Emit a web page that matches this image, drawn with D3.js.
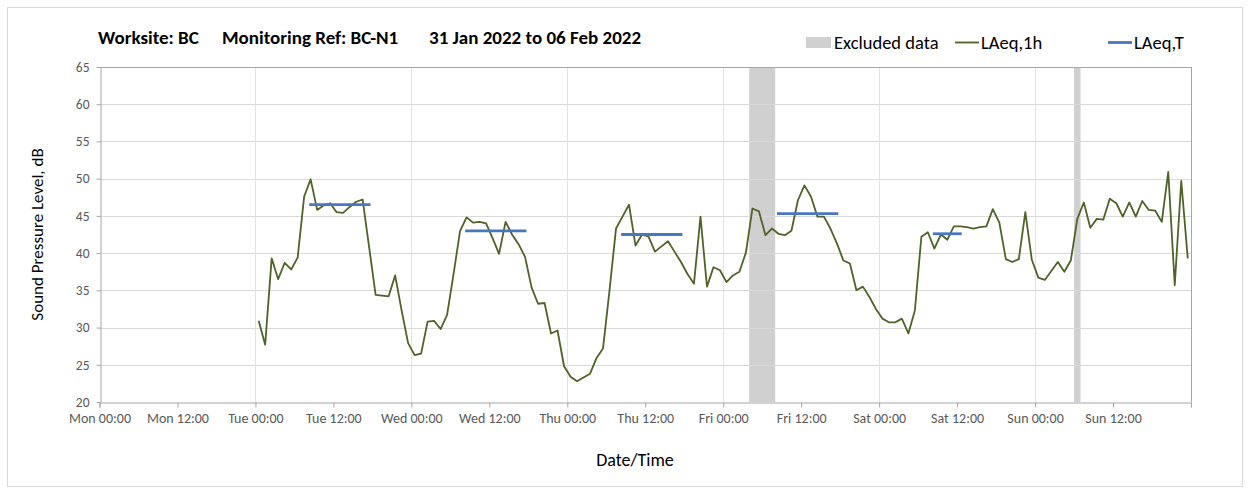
<!DOCTYPE html>
<html>
<head>
<meta charset="utf-8">
<script src="https://cdn.jsdelivr.net/npm/d3@7"></script>
<style>
  html, body { margin: 0; padding: 0; background: #fff; }
  svg { display: block; font-family: Carlito, Lato, "Open Sans", sans-serif; }
</style>
</head>
<body>
<svg id="chart" width="1250" height="492"></svg>
<script>
// ---------------- DATA ----------------
const titleParts = ["Worksite: BC", "Monitoring Ref: BC-N1", "31 Jan 2022 to 06 Feb 2022"];
const axisStart = "2022-01-31T00:00Z";
const axisEnd   = "2022-02-07T00:00Z";
const seriesStart = "2022-02-01T00:00Z"; // first hourly interval (Tue 00:00)
const yTicks = [20, 25, 30, 35, 40, 45, 50, 55, 60, 65];

// LAeq,1h hourly values, Tue 00:00 -> Sun 23:00
const laeq1h = [
  30.9, 27.7, 39.3, 36.5, 38.7, 37.8, 39.4, 47.6, 49.9, 45.8, 46.4, 46.7,
  45.5, 45.4, 46.2, 46.9, 47.2, 40.8, 34.4, 34.3, 34.2, 37.0, 32.3, 27.9,
  26.3, 26.5, 30.8, 30.9, 29.8, 31.7, 37.2, 43.0, 44.8, 44.1, 44.2, 44.0,
  42.0, 39.9, 44.2, 42.5, 41.2, 39.5, 35.4, 33.2, 33.3, 29.2, 29.6, 24.8,
  23.4, 22.8, 23.3, 23.8, 25.9, 27.2, 35.0, 43.3, 44.9, 46.5, 41.0, 42.5,
  42.2, 40.2, 40.9, 41.6, 40.2, 38.8, 37.2, 35.9, 44.9, 35.5, 38.1, 37.7,
  36.1, 37.0, 37.5, 40.1, 46.0, 45.6, 42.4, 43.3, 42.6, 42.4, 43.0, 47.1,
  49.1, 47.6, 44.9, 44.9, 43.3, 41.3, 39.0, 38.6, 35.0, 35.5, 34.1, 32.5,
  31.2, 30.7, 30.7, 31.2, 29.2, 32.3, 42.2, 42.8, 40.6, 42.5, 41.8, 43.6,
  43.6, 43.5, 43.3, 43.5, 43.6, 45.9, 44.1, 39.2, 38.8, 39.2, 45.5, 39.1,
  36.7, 36.4, 37.6, 38.8, 37.5, 39.0, 44.6, 46.8, 43.4, 44.6, 44.5, 47.3,
  46.7, 44.9, 46.8, 44.9, 47.0, 45.8, 45.7, 44.2, 50.9, 35.7, 49.7, 39.3
];

// LAeq,T working-period values
const periodStarts = ["2022-02-01T08:00Z", "2022-02-02T08:00Z", "2022-02-03T08:00Z", "2022-02-04T08:00Z", "2022-02-05T08:00Z"];
const periodEnds   = ["2022-02-01T18:00Z", "2022-02-02T18:00Z", "2022-02-03T18:00Z", "2022-02-04T18:00Z", "2022-02-05T13:00Z"];
const laeqT        = [46.5, 43.0, 42.5, 45.3, 42.6];

// Excluded data periods
const excludedStarts = ["2022-02-04T04:00Z", "2022-02-06T06:00Z"];
const excludedEnds   = ["2022-02-04T08:00Z", "2022-02-06T07:00Z"];

const legendLabels = ["Excluded data", "LAeq,1h", "LAeq,T"];

// ---------------- CHART ----------------
const W = 1250, H = 492;
const m = { left: 99.5, right: 1191, top: 67, bottom: 402 };
const HOUR = 3600 * 1000;
const svg = d3.select("#chart");

const colGreen = "#4f6228", colBlue = "#4a76c0", colExcl = "#d0d0d0";
const colGrid = "#d9d9d9", colAxis = "#a6a6a6", colText = "#595959";

// outer frame
svg.append("rect").attr("x", 7.5).attr("y", 7.5).attr("width", W - 15).attr("height", H - 13)
  .attr("fill", "#fff").attr("stroke", "#d9d9d9").attr("stroke-width", 1);

const x = d3.scaleUtc().domain([new Date(axisStart), new Date(axisEnd)]).range([m.left, m.right]);
const y = d3.scaleLinear().domain([20, 65]).range([m.bottom, m.top]);

// excluded bands
svg.append("g").selectAll("rect").data(excludedStarts.map((s, i) => [new Date(s), new Date(excludedEnds[i])]))
  .join("rect")
  .attr("x", d => x(d[0])).attr("width", d => x(d[1]) - x(d[0]))
  .attr("y", m.top).attr("height", m.bottom - m.top)
  .attr("fill", colExcl);

// horizontal gridlines
svg.append("g").selectAll("line").data(yTicks.filter(v => v > 20)).join("line")
  .attr("x1", m.left).attr("x2", m.right)
  .attr("y1", d => Math.round(y(d)) + 0.5).attr("y2", d => Math.round(y(d)) + 0.5)
  .attr("stroke", colGrid).attr("stroke-width", 1);

// vertical day gridlines
const dayTicks = d3.utcDay.range(new Date(axisStart), new Date(axisEnd)).slice(1);
svg.append("g").selectAll("line").data(dayTicks).join("line")
  .attr("x1", d => Math.round(x(d)) + 0.5).attr("x2", d => Math.round(x(d)) + 0.5)
  .attr("y1", m.top).attr("y2", m.bottom)
  .attr("stroke", "#e3e3e3").attr("stroke-width", 1);

// plot border (right and top)
svg.append("line").attr("x1", Math.round(m.right) + 0.5).attr("x2", Math.round(m.right) + 0.5)
  .attr("y1", m.top).attr("y2", m.bottom).attr("stroke", colAxis);
svg.append("line").attr("x1", m.left).attr("x2", m.right)
  .attr("y1", Math.round(m.top) + 0.5).attr("y2", Math.round(m.top) + 0.5).attr("stroke", colAxis);

// axes
const xTicks = d3.utcHour.every(12).range(new Date(axisStart), new Date(new Date(axisEnd).getTime() + 1));
const xAxis = d3.axisBottom(x).tickValues(xTicks).tickSize(5).tickPadding(6)
  .tickFormat(d => d.getTime() >= new Date(axisEnd).getTime() ? "" : d3.utcFormat("%a %H:%M")(d));
const gx = svg.append("g").attr("transform", `translate(0,${Math.round(m.bottom) + 0.5})`).call(xAxis);
gx.select(".domain").attr("stroke", colAxis);
gx.selectAll(".tick line").attr("stroke", colAxis);
gx.selectAll(".tick text").attr("fill", colText).attr("font-size", 14).attr("font-family", "Carlito, Lato, sans-serif");

const yAxis = d3.axisLeft(y).tickValues(yTicks).tickSize(4).tickPadding(7).tickSizeOuter(0);
const gy = svg.append("g").attr("transform", `translate(${Math.round(m.left) + 0.5},0)`).call(yAxis);
gy.select(".domain").attr("stroke", colAxis);
gy.selectAll(".tick line").attr("stroke", colAxis);
gy.selectAll(".tick text").attr("fill", colText).attr("font-size", 13.5).attr("font-family", "Carlito, Lato, sans-serif");

// LAeq,1h line
const hourly = laeq1h.map((v, i) => ({ t: new Date(new Date(seriesStart).getTime() + i * HOUR + HOUR / 2), v }));
svg.append("path").datum(hourly)
  .attr("d", d3.line().x(d => x(d.t)).y(d => y(d.v)))
  .attr("fill", "none").attr("stroke", colGreen).attr("stroke-width", 1.8).attr("stroke-linejoin", "round");

// LAeq,T segments
svg.append("g").selectAll("line").data(laeqT.map((v, i) => ({
    a: new Date(new Date(periodStarts[i]).getTime() + HOUR / 2),
    b: new Date(new Date(periodEnds[i]).getTime() - HOUR / 2), v })))
  .join("line")
  .attr("x1", d => x(d.a)).attr("x2", d => x(d.b))
  .attr("y1", d => y(d.v)).attr("y2", d => y(d.v))
  .attr("stroke", colBlue).attr("stroke-width", 2.8).attr("stroke-linecap", "square");

// title
const titleX = [98, 222, 429];
svg.append("g").selectAll("text").data(titleParts).join("text")
  .attr("x", (d, i) => titleX[i]).attr("y", 44)
  .attr("font-size", 19).attr("font-weight", "bold").attr("fill", "#000")
  .text(d => d);

// legend
const lg = svg.append("g");
lg.append("rect").attr("x", 806).attr("y", 37).attr("width", 25).attr("height", 11).attr("fill", colExcl);
lg.append("text").attr("x", 834).attr("y", 48.5).attr("font-size", 18.5).attr("fill", "#000").text(legendLabels[0]);
lg.append("line").attr("x1", 955).attr("x2", 979).attr("y1", 42.5).attr("y2", 42.5).attr("stroke", colGreen).attr("stroke-width", 1.8);
lg.append("text").attr("x", 981).attr("y", 48.5).attr("font-size", 18.5).attr("fill", "#000").text(legendLabels[1]);
lg.append("line").attr("x1", 1108).attr("x2", 1132).attr("y1", 42.5).attr("y2", 42.5).attr("stroke", colBlue).attr("stroke-width", 2.8);
lg.append("text").attr("x", 1134).attr("y", 48.5).attr("font-size", 18.5).attr("fill", "#000").text(legendLabels[2]);

// axis titles
svg.append("text").attr("x", 635).attr("y", 466).attr("text-anchor", "middle")
  .attr("font-size", 18).attr("fill", "#000").text("Date/Time");
svg.append("text").attr("transform", `translate(43,${(m.top + m.bottom) / 2}) rotate(-90)`)
  .attr("text-anchor", "middle").attr("font-size", 17).attr("fill", "#000").text("Sound Pressure Level, dB");
</script>
</body>
</html>
